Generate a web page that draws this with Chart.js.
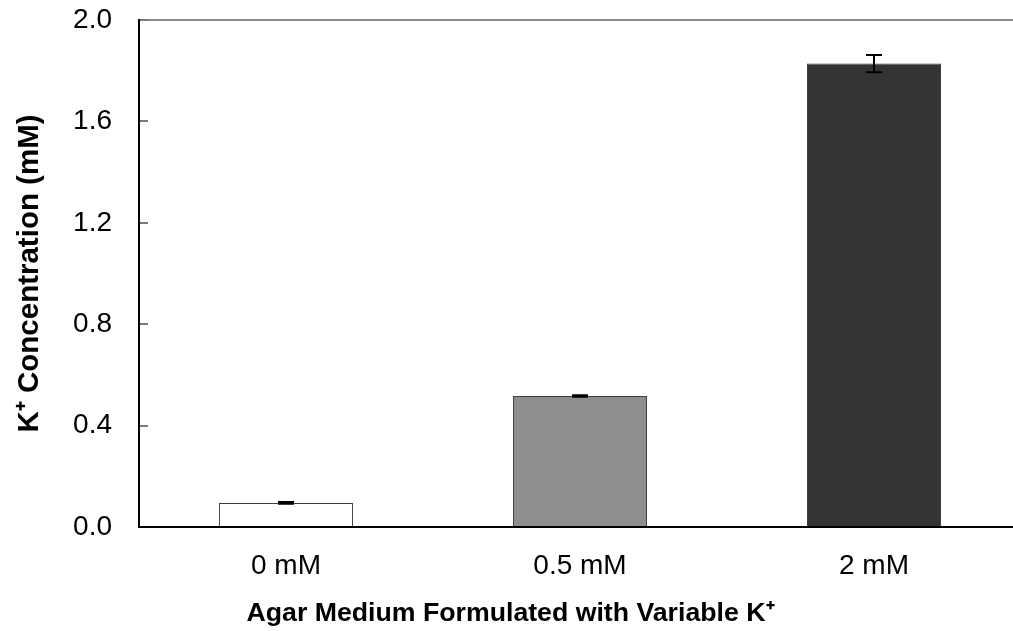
<!DOCTYPE html>
<html>
<head>
<meta charset="utf-8">
<script src="https://cdn.jsdelivr.net/npm/chart.js@4/dist/chart.umd.min.js"></script>
<style>
  html, body { margin: 0; padding: 0; background: #fff; overflow: hidden; }
  #wrap { position: absolute; left: 0; top: 0; width: 1022px; height: 631px; }
</style>
</head>
<body>
<div id="wrap"><canvas id="c"></canvas></div>
<script>
const categories = ['0 mM', '0.5 mM', '2 mM'];
const concentration = [0.095, 0.517, 1.828];
const errors = [0.003, 0.003, 0.034];
const barColors = ['#ffffff', '#8e8e8e', '#333333'];
const yTickValues = [0.0, 0.4, 0.8, 1.2, 1.6, 2.0];
const xTitle = 'Agar Medium Formulated with Variable K\u207A';
const yTitle = 'K\u207A Concentration (mM)';

const FONT = "'Liberation Sans', Arial, sans-serif";

const decorPlugin = {
  id: 'decor',
  beforeDatasetsDraw(chart) {
    const ctx = chart.ctx, a = chart.chartArea, ys = chart.scales.y;
    ctx.save();
    ctx.strokeStyle = '#8a8a8a';
    ctx.lineWidth = 2;
    ctx.beginPath();
    ctx.moveTo(a.left, a.top);
    ctx.lineTo(a.right, a.top);
    ctx.stroke();
    ctx.strokeStyle = '#7a7a7a';
    ys.ticks.forEach(t => {
      const y = Math.round(ys.getPixelForValue(t.value));
      ctx.beginPath();
      ctx.moveTo(a.left, y);
      ctx.lineTo(a.left + 9, y);
      ctx.stroke();
    });
    ctx.restore();
  },
  afterDatasetsDraw(chart) {
    const ctx = chart.ctx, ys = chart.scales.y, a = chart.chartArea;
    const meta = chart.getDatasetMeta(0);
    ctx.save();
    ctx.strokeStyle = '#000';
    ctx.lineWidth = 2;
    meta.data.forEach((bar, i) => {
      const x = bar.x;
      const yt = ys.getPixelForValue(concentration[i] + errors[i]);
      const yb = ys.getPixelForValue(concentration[i] - errors[i]);
      ctx.beginPath();
      ctx.moveTo(x, yt); ctx.lineTo(x, yb);
      ctx.moveTo(x - 8, yt); ctx.lineTo(x + 8, yt);
      ctx.moveTo(x - 8, yb); ctx.lineTo(x + 8, yb);
      ctx.stroke();
    });
    ctx.beginPath();
    ctx.moveTo(a.left, a.top - 1);
    ctx.lineTo(a.left, a.bottom);
    ctx.lineTo(a.right, a.bottom);
    ctx.stroke();
    ctx.restore();
  }
};

new Chart(document.getElementById('c'), {
  type: 'bar',
  data: {
    labels: categories,
    datasets: [{
      data: concentration,
      backgroundColor: barColors,
      borderColor: '#3c3c3c',
      borderWidth: 1,
      categoryPercentage: 1.0,
      barPercentage: 0.456
    }]
  },
  options: {
    responsive: true,
    maintainAspectRatio: false,
    animation: false,
    layout: { padding: { top: 20, right: 1, bottom: 0, left: 0 } },
    plugins: {
      legend: { display: false },
      tooltip: { enabled: false },
      title: {
        display: true,
        position: 'bottom',
        text: xTitle,
        color: '#000',
        font: { family: FONT, size: 26.7, weight: 'bold', lineHeight: 1.2 },
        padding: { top: 0, bottom: 1 }
      }
    },
    scales: {
      x: {
        grid: { display: false, drawTicks: false },
        border: { display: false },
        ticks: { color: '#000', font: { family: FONT, size: 28 }, padding: 23, maxRotation: 0 },
        afterFit(s) { s.height = 104 - 33; s.paddingLeft = 0; s.paddingRight = 0; }
      },
      y: {
        min: 0, max: 2.0,
        grid: { display: false, drawTicks: false },
        border: { display: false },
        afterBuildTicks(s) { s.ticks = yTickValues.map(v => ({ value: v })); },
        ticks: { color: '#000', font: { family: FONT, size: 28 }, padding: 27, callback: v => Number(v).toFixed(1) },
        title: { display: true, text: yTitle, color: '#000', font: { family: FONT, size: 29.5, weight: 'bold' }, padding: { top: 12, bottom: 0 } },
        afterFit(s) { s.width = 139; s.paddingTop = 0; s.paddingBottom = 0; }
      }
    }
  },
  plugins: [decorPlugin]
});
</script>
</body>
</html>
